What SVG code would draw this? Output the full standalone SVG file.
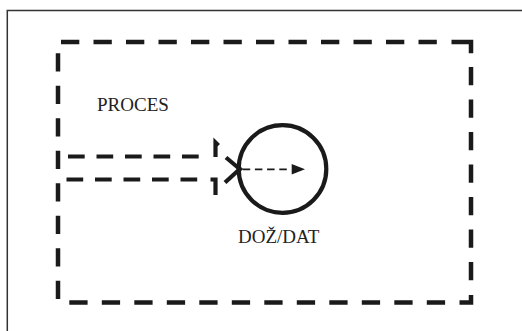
<svg xmlns="http://www.w3.org/2000/svg" width="522" height="331" viewBox="0 0 522 331">
  <style>
    .frame { fill: none; stroke: #333; stroke-width: 1.5; }
    .bound { fill: none; stroke: #1a1a1a; stroke-width: 4.5; stroke-dasharray: 18.3 14.2; }
    .corner { fill: none; stroke: #1a1a1a; stroke-width: 4.5; }
    .flow { fill: none; stroke: #1a1a1a; stroke-width: 4.2; stroke-dasharray: 16.7 11.8; }
    .head { fill: none; stroke: #1a1a1a; stroke-width: 4.2; }
    .store { fill: none; stroke: #1a1a1a; stroke-width: 4.2; }
    .thin { fill: none; stroke: #1a1a1a; stroke-width: 1.8; stroke-dasharray: 7.5 4.7; }
    .label { font-family: "Liberation Serif", "Times New Roman", serif; font-size: 19px; fill: #222; }
  </style>

  <!-- outer sheet border, runs off the right and bottom edges -->
  <rect class="frame" x="7.3" y="10.5" width="530" height="340"/>

  <!-- process boundary -->
  <g id="process">
    <line class="bound" x1="61" y1="42" x2="437" y2="42"/>
    <path class="corner" d="M451.5 42 H471 V53.3"/>
    <line class="bound" x1="471" y1="67" x2="471" y2="281"/>
    <path class="corner" d="M471 295 V302.5 H459.5"/>
    <line class="bound" x1="69.3" y1="302.5" x2="446" y2="302.5"/>
    <line class="bound" x1="58" y1="53.3" x2="58" y2="299.5"/>
    <text class="label" x="97" y="111">PROCES</text>
  </g>

  <!-- data store -->
  <g id="data-store">
    <circle class="store" cx="282.5" cy="169" r="43.8"/>
    <text class="label" x="238" y="243">DOŽ/DAT</text>
  </g>

  <g id="connectors">
    <!-- wide dashed flow into the store -->
    <line class="flow" x1="68" y1="156.5" x2="199" y2="156.5"/>
    <line class="flow" x1="66.5" y1="179.5" x2="199" y2="179.5"/>
    <path class="head" d="M215.5 157 V142.5 L218.5 145.5"/>
    <path class="head" d="M210.5 179.5 H215.5 V195"/>
    <line class="head" x1="226" y1="157.5" x2="241.5" y2="170.5"/>
    <line class="head" x1="225" y1="182.5" x2="241.5" y2="167.5"/>
    <!-- thin dashed arrow inside the store -->
    <line class="thin" x1="242.7" y1="169.3" x2="288" y2="169.3"/>
    <polygon points="291.7,164 305,169.3 291.7,174.5" fill="#1a1a1a"/>
  </g>
</svg>
